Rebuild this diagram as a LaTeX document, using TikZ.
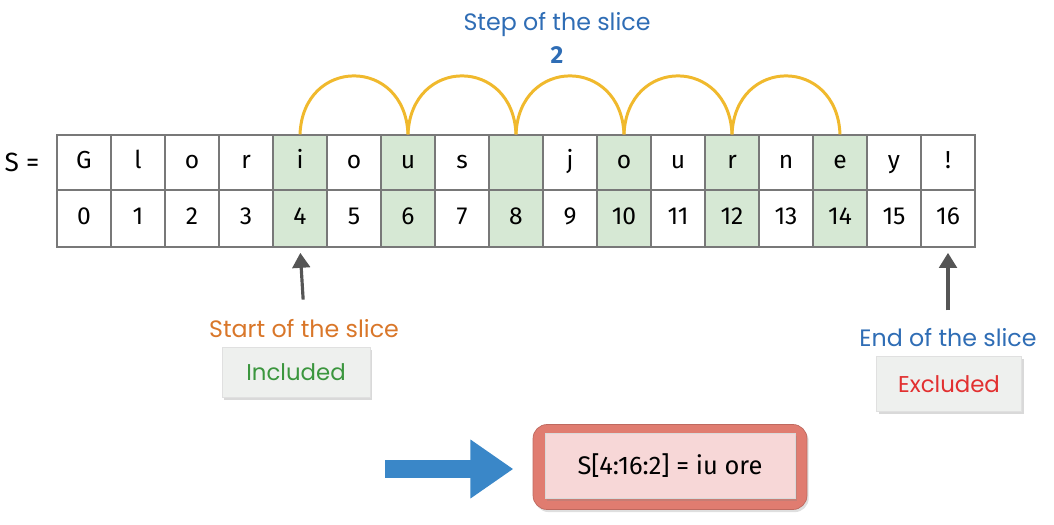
\documentclass[tikz,border=0pt]{standalone}
\usepackage{fontspec}
\setmainfont{Fira Sans}
\newfontfamily\handfont{Poppins}
\usetikzlibrary{arrows.meta,shadows}
\definecolor{sliceGreen}{RGB}{214,232,212}
\definecolor{sliceGrid}{RGB}{120,120,120}
\definecolor{sliceHop}{RGB}{240,185,45}
\definecolor{sliceBlue}{RGB}{47,109,181}
\definecolor{sliceOrange}{RGB}{217,119,42}
\definecolor{sliceIncl}{RGB}{59,150,62}
\definecolor{sliceExcl}{RGB}{226,48,48}
\definecolor{slicePtr}{RGB}{85,85,85}
\definecolor{sliceArrow}{RGB}{58,135,200}
\definecolor{sliceSalmon}{RGB}{224,124,112}
\definecolor{slicePink}{RGB}{247,215,215}
\definecolor{sliceTag}{RGB}{238,240,238}

\begin{document}
\begin{tikzpicture}[
  x=0.02cm, y=-0.02cm,
  cell/.style={draw=sliceGrid, line width=0.7pt, minimum width=1.08cm,
    minimum height=1.1cm, inner sep=0pt, font=\fontsize{14}{16}\selectfont,
    text height=1.7ex, text depth=0.45ex},
  hop/.style={sliceHop, line width=1.7pt},
  ptr/.style={slicePtr, line width=1.8pt, -{Triangle[length=8.5pt, width=10pt]}},
  hand/.style={font=\handfont\fontsize{13.5}{16}\selectfont},
  tag/.style={draw=black!12, fill=sliceTag, minimum width=2.96cm, minimum height=1cm,
    drop shadow={opacity=0.3, shadow xshift=1.2pt, shadow yshift=-1.5pt},
    font=\handfont\fontsize{13}{15}\selectfont},
  bigarrow/.style={sliceArrow, line width=10.2pt,
    -{Triangle[length=24.4pt, width=31.8pt]}},
]
\useasboundingbox (0,0) rectangle (1054,524);

%% ── string row (top) and index row (bottom) ─────────────
\def\rowT{162.5}   % top row centre
\def\rowB{218.5}   % index row centre
\foreach \ch [count=\k from 0] in {G,l,o,r,i,o,u,s,{},j,o,u,r,n,e,y,!}{
  \pgfmathtruncatemacro{\isgreen}{and(\k>3, and(\k<15, iseven(\k)))}
  \ifnum\isgreen=1 \def\cellfill{sliceGreen}\else\def\cellfill{white}\fi
  \node[cell, fill=\cellfill] (c\k) at ({84+54*\k}, \rowT) {\ch};
  \node[cell, fill=\cellfill, minimum height=1.14cm] (i\k) at ({84+54*\k}, \rowB) {\k};
}
\node[font=\fontsize{15}{17}\selectfont] (sname) at (22, \rowT) {S =};

%% ── step arcs ────────────────────────────────────────────
\foreach \a/\b in {4/6,6/8,8/10,10/12,12/14}
  \draw[hop] (c\a.north) .. controls +(3,-78) and +(-3,-78) .. (c\b.north);

\node[hand, sliceBlue] (steplbl) at (557, 25) {Step of the slice};
\node[font=\bfseries\fontsize{14}{16}\selectfont, sliceBlue] (stepval) at (557, 55) {2};

%% ── start / end pointers ────────────────────────────────
\node[hand, sliceOrange] (startlbl) at (304, 329) {Start of the slice};
\node[tag, text=sliceIncl] (incl) at (296, 372) {Included};
\draw[ptr, shorten <=8pt, shorten >=3pt] (startlbl.north) -- (i4.south);

\node[hand, sliceBlue] (endlbl) at (948, 338) {End of the slice};
\node[tag, text=sliceExcl, minimum width=2.9cm, minimum height=1.1cm] (excl) at (949, 384) {Excluded};
\draw[ptr, shorten <=7pt, shorten >=3pt] (endlbl.north) -- (i16.south);

%% ── result ───────────────────────────────────────────────
\node[fill=sliceSalmon, draw=sliceSalmon!85!black, line width=0.4pt, rounded corners=8pt,
      minimum width=5.48cm, minimum height=1.7cm,
      drop shadow={opacity=0.25, shadow xshift=1pt, shadow yshift=-1.5pt}] (resframe) at (670, 467) {};
\node[fill=slicePink, draw=black!15, minimum width=5cm, minimum height=1.3cm,
      drop shadow={opacity=0.25, shadow xshift=1pt, shadow yshift=-1.2pt},
      font=\fontsize{14.5}{17}\selectfont] (res) at (670, 466) {S[4:16:2] = iu ore};

\coordinate (tail) at (385, 469);
\draw[bigarrow, shorten >=11pt] (tail) -- (tail -| resframe.west);

\end{tikzpicture}
\end{document}
